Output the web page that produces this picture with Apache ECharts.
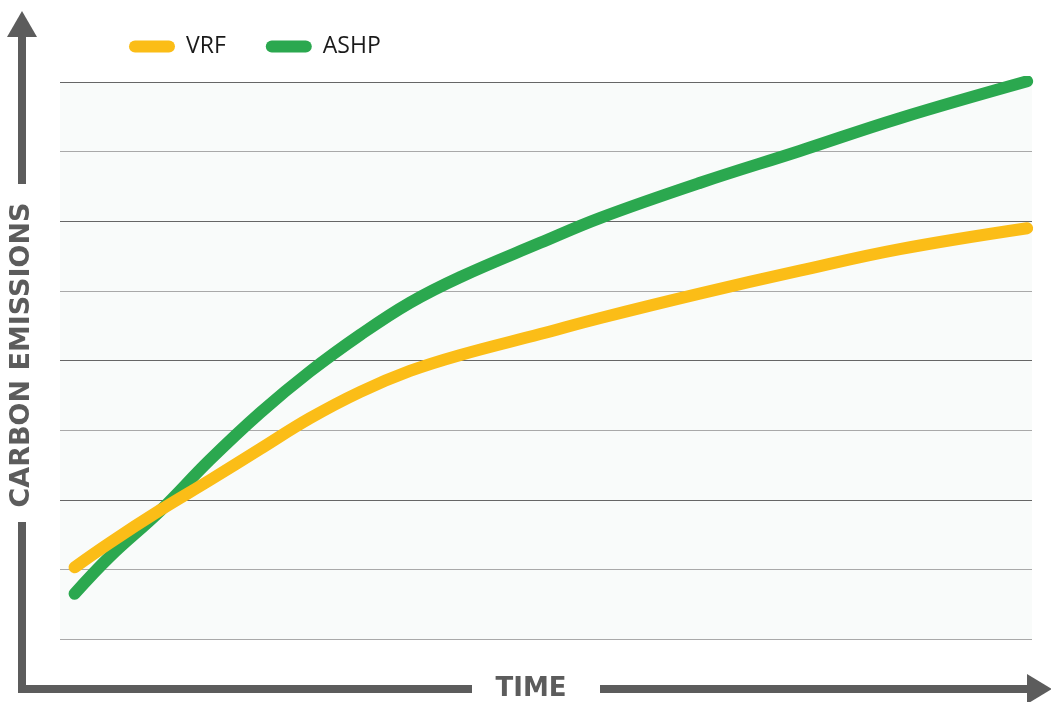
<!DOCTYPE html>
<html>
<head>
<meta charset="utf-8">
<title>Carbon emissions over time: VRF vs ASHP</title>
<script src="https://cdn.jsdelivr.net/npm/echarts@6/dist/echarts.min.js"></script>
<style>
  html, body { margin: 0; padding: 0; background: #ffffff; }
  #chart { width: 1051px; height: 702px; }
</style>
</head>
<body>
<div id="chart"></div>
<script>
// Time steps (arbitrary units along the horizontal axis)
const timeSteps = [15, 51, 103, 154, 206, 257, 309, 360, 412, 494, 556, 658, 761, 864, 995];
// Carbon emissions (relative units) for each system
const vrfEmissions  = [1.03, 1.38, 1.85, 2.28, 2.73, 3.17, 3.55, 3.85, 4.08, 4.38, 4.61, 4.96, 5.29, 5.60, 5.90];
const ashpEmissions = [0.65, 1.18, 1.84, 2.57, 3.25, 3.84, 4.37, 4.83, 5.20, 5.69, 6.05, 6.55, 7.01, 7.48, 8.01];
const seriesNames = ['VRF', 'ASHP'];
const seriesColors = ['#FBBD17', '#2BA84F'];
const yAxisTitle = 'CARBON EMISSIONS';
const xAxisTitle = 'TIME';

const axisGray = '#5c5c5c';
const pill = 'path://M6,0 L40,0 A6,6 0 0 1 40,12 L6,12 A6,6 0 0 1 6,0 Z';

const chart = echarts.init(document.getElementById('chart'), null, { renderer: 'canvas' });

chart.setOption({
  animation: false,
  backgroundColor: '#ffffff',
  grid: {
    left: 60, right: 19, top: 82, bottom: 63,
    show: true, backgroundColor: '#f9fbfa', borderWidth: 0
  },
  legend: {
    left: 129, top: 35, padding: 0,
    itemWidth: 46, itemHeight: 12, itemGap: 40,
    icon: pill,
    textStyle: { fontFamily: 'Open Sans', fontSize: 23, color: '#1a1a1a', padding: [0, 0, 0, 6] },
    data: seriesNames
  },
  xAxis: {
    type: 'value', min: 0, max: 1000,
    axisLine: { show: false }, axisTick: { show: false },
    axisLabel: { show: false }, splitLine: { show: false }
  },
  yAxis: {
    type: 'value', min: 0, max: 8, interval: 1,
    axisLine: { show: false }, axisTick: { show: false }, axisLabel: { show: false },
    splitLine: {
      show: true,
      lineStyle: {
        width: 1,
        color: ['#a9a9a9', '#a9a9a9', '#666666', '#a9a9a9', '#666666', '#a9a9a9', '#666666', '#a9a9a9', '#666666']
      }
    }
  },
  series: [
    {
      name: seriesNames[0], type: 'line', smooth: 0.4, showSymbol: false,
      data: timeSteps.map((t, i) => [t, vrfEmissions[i]]),
      itemStyle: { color: seriesColors[0] },
      lineStyle: { color: seriesColors[0], width: 12, cap: 'round', join: 'round' },
      z: 3
    },
    {
      name: seriesNames[1], type: 'line', smooth: 0.4, showSymbol: false,
      data: timeSteps.map((t, i) => [t, ashpEmissions[i]]),
      itemStyle: { color: seriesColors[1] },
      lineStyle: { color: seriesColors[1], width: 12, cap: 'round', join: 'round' },
      z: 2
    }
  ],
  graphic: [
    // vertical axis arrow with a gap for its title
    { type: 'line', shape: { x1: 22, y1: 36, x2: 22, y2: 184 }, style: { stroke: axisGray, lineWidth: 8 } },
    { type: 'line', shape: { x1: 22, y1: 522, x2: 22, y2: 693 }, style: { stroke: axisGray, lineWidth: 8 } },
    { type: 'polygon', shape: { points: [[22, 11], [7, 37], [37, 37]] }, style: { fill: axisGray } },
    {
      type: 'text', x: 22, y: 355, rotation: Math.PI / 2,
      style: {
        text: yAxisTitle, fill: axisGray, font: 'bold 27px "DejaVu Sans"',
        align: 'center', verticalAlign: 'middle'
      }
    },
    // horizontal axis arrow with a gap for its title
    { type: 'line', shape: { x1: 18, y1: 689, x2: 472, y2: 689 }, style: { stroke: axisGray, lineWidth: 8 } },
    { type: 'line', shape: { x1: 600, y1: 689, x2: 1030, y2: 689 }, style: { stroke: axisGray, lineWidth: 8 } },
    { type: 'polygon', shape: { points: [[1052, 689], [1027, 674], [1027, 704]] }, style: { fill: axisGray } },
    {
      type: 'text', x: 531, y: 689,
      style: {
        text: xAxisTitle, fill: axisGray, font: 'bold 26px "DejaVu Sans"',
        align: 'center', verticalAlign: 'middle'
      }
    }
  ]
});
</script>
</body>
</html>
